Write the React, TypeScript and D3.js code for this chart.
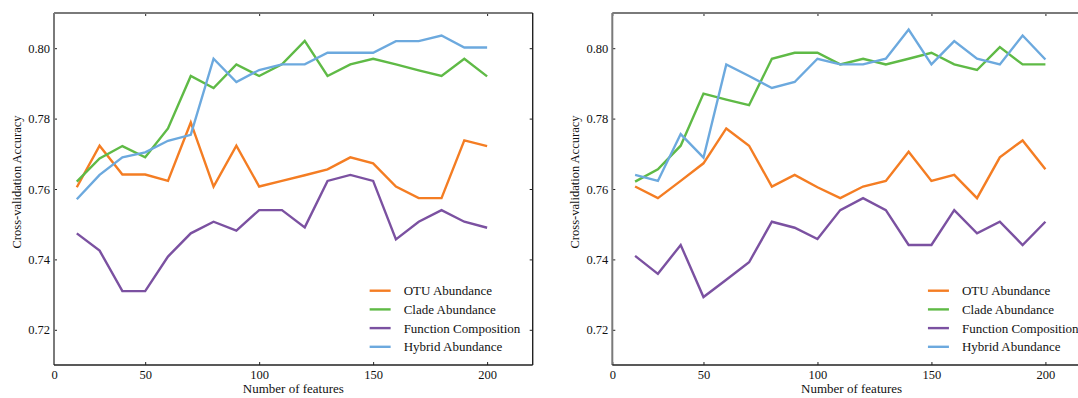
import React, { useRef, useEffect } from 'react';
import * as d3 from 'd3';

// number of features used for each run
const features = [20, 30, 40, 50, 60, 70, 80, 90, 100, 110, 120, 130, 140, 150, 160, 170, 180, 190, 200];

// left panel
const leftOtu = [0.7605, 0.7723, 0.7641, 0.7641, 0.7623, 0.7789, 0.7607, 0.7723, 0.7607, 0.7623, 0.7639, 0.7656, 0.7690, 0.7673, 0.7607, 0.7574, 0.7574, 0.7738, 0.7722];
const leftClade = [0.7621, 0.7687, 0.7722, 0.7690, 0.7772, 0.7921, 0.7887, 0.7954, 0.7921, 0.7954, 0.8021, 0.7921, 0.7954, 0.7970, 0.7954, 0.7937, 0.7921, 0.7970, 0.7920];
const leftFunction = [0.7474, 0.7425, 0.7310, 0.7310, 0.7408, 0.7474, 0.7507, 0.7482, 0.7540, 0.7540, 0.7491, 0.7623, 0.7640, 0.7623, 0.7457, 0.7507, 0.7540, 0.7507, 0.7490];
const leftHybrid = [0.7571, 0.7640, 0.7690, 0.7704, 0.7737, 0.7754, 0.7970, 0.7904, 0.7938, 0.7954, 0.7954, 0.7987, 0.7987, 0.7987, 0.8020, 0.8020, 0.8036, 0.8002, 0.8002];

// right panel
const rightOtu = [0.7607, 0.7574, 0.7623, 0.7673, 0.7772, 0.7723, 0.7607, 0.7640, 0.7605, 0.7574, 0.7607, 0.7623, 0.7706, 0.7623, 0.7640, 0.7574, 0.7690, 0.7738, 0.7656];
const rightClade = [0.7621, 0.7656, 0.7723, 0.7871, 0.7854, 0.7838, 0.7970, 0.7987, 0.7987, 0.7954, 0.7970, 0.7954, 0.7970, 0.7987, 0.7954, 0.7938, 0.8003, 0.7954, 0.7954];
const rightFunction = [0.7410, 0.7359, 0.7441, 0.7293, 0.7342, 0.7392, 0.7507, 0.7490, 0.7458, 0.7540, 0.7574, 0.7540, 0.7441, 0.7441, 0.7540, 0.7474, 0.7507, 0.7441, 0.7507];
const rightHybrid = [0.7640, 0.7623, 0.7756, 0.7689, 0.7954, 0.7921, 0.7887, 0.7904, 0.7970, 0.7954, 0.7954, 0.7970, 0.8053, 0.7954, 0.8020, 0.7970, 0.7954, 0.8036, 0.7968];

const seriesNames = ["OTU Abundance", "Clade Abundance", "Function Composition", "Hybrid Abundance"];
const seriesColors = ["#f47d23", "#5fba46", "#7b51a1", "#6ca9de"];

const xTickValues = [10, 50, 100, 150, 200];
const xTickLabels = ["0", "50", "100", "150", "200"];
const yTickValues = [0.72, 0.74, 0.76, 0.78, 0.80];

const font = "'Liberation Serif', 'Times New Roman', serif";

const Panel = ({ svgRef, offsetX, series }) => {
    useEffect(() => {
        const width = 478.7;
        const height = 352;
        const top = 13;

        const root = d3.select(svgRef.current).append("g")
            .attr("transform", `translate(${offsetX},${top})`);

        const x = d3.scaleLinear().domain([10, 220]).range([0, width]);
        const y = d3.scaleLinear().domain([0.71, 0.81]).range([height, 0]);

        // lines
        const line = d3.line()
            .x((d, i) => x(features[i]))
            .y(d => y(d));

        series.forEach((values, k) => {
            root.append("path")
                .datum(values)
                .attr("fill", "none")
                .attr("stroke", seriesColors[k])
                .attr("stroke-width", 2.4)
                .attr("d", line);
        });

        // ticks on all four sides, pointing inward
        const styleAxis = (g, showLabels) => {
            g.select(".domain").remove();
            g.selectAll(".tick line").attr("stroke", "#222").attr("stroke-width", 1);
            g.selectAll(".tick text")
                .style("font-family", font)
                .style("font-size", "12.5px")
                .attr("fill", "#111")
                .style("display", showLabels ? null : "none");
        };

        root.append("g")
            .attr("transform", `translate(0,${height})`)
            .call(d3.axisBottom(x).tickValues(xTickValues).tickSize(-3).tickPadding(5)
                .tickFormat((d, i) => xTickLabels[i]))
            .call(g => styleAxis(g, true));
        root.append("g")
            .call(d3.axisTop(x).tickValues(xTickValues).tickSize(-3))
            .call(g => styleAxis(g, false));
        root.append("g")
            .call(d3.axisLeft(y).tickValues(yTickValues).tickSize(-3).tickPadding(4)
                .tickFormat(d3.format(".2f")))
            .call(g => styleAxis(g, true));
        root.append("g")
            .attr("transform", `translate(${width},0)`)
            .call(d3.axisRight(y).tickValues(yTickValues).tickSize(-3))
            .call(g => styleAxis(g, false));

        // spines
        root.append("line").attr("x1", 0).attr("x2", 0).attr("y1", 0).attr("y2", height)
            .attr("stroke", "#7a7a7a").attr("stroke-width", 2);
        root.append("line").attr("x1", 0).attr("x2", width).attr("y1", 0).attr("y2", 0)
            .attr("stroke", "#7a7a7a").attr("stroke-width", 2);
        root.append("line").attr("x1", 0).attr("x2", width).attr("y1", height).attr("y2", height)
            .attr("stroke", "#222").attr("stroke-width", 1.4);
        root.append("line").attr("x1", width).attr("x2", width).attr("y1", 0).attr("y2", height)
            .attr("stroke", "#222").attr("stroke-width", 1.4);

        // axis labels
        root.append("text")
            .attr("x", width / 2)
            .attr("y", height + 28)
            .attr("text-anchor", "middle")
            .style("font-family", font)
            .style("font-size", "13px")
            .attr("fill", "#111")
            .text("Number of features");

        root.append("text")
            .attr("transform", `translate(-33,${height / 2 - 7}) rotate(-90)`)
            .attr("text-anchor", "middle")
            .style("font-family", font)
            .style("font-size", "12.5px")
            .attr("fill", "#111")
            .text("Cross-validation Accuracy");

        // legend, lower right
        const legend = root.append("g").attr("transform", `translate(${x(150) - 3.5},277.7)`);
        seriesNames.forEach((name, k) => {
            const row = legend.append("g").attr("transform", `translate(0,${k * 18.7})`);
            row.append("line")
                .attr("x1", 0).attr("x2", 21)
                .attr("stroke", seriesColors[k])
                .attr("stroke-width", 2.4);
            row.append("text")
                .attr("x", 34)
                .attr("y", 4.5)
                .style("font-family", font)
                .style("font-size", "13px")
                .attr("fill", "#111")
                .text(name);
        });

        return () => root.remove();
    }, [svgRef, offsetX, series]);

    return null;
};

const App = () => {
    const svgRef = useRef();

    return (
        <div>
            <svg ref={svgRef} width={1078} height={398}
                style={{ position: "absolute", left: 0, top: 0, display: "block", background: "#fff" }}>
            </svg>
            <Panel svgRef={svgRef} offsetX={54} series={[leftOtu, leftClade, leftFunction, leftHybrid]} />
            <Panel svgRef={svgRef} offsetX={612.3} series={[rightOtu, rightClade, rightFunction, rightHybrid]} />
        </div>
    );
};

export default App;
